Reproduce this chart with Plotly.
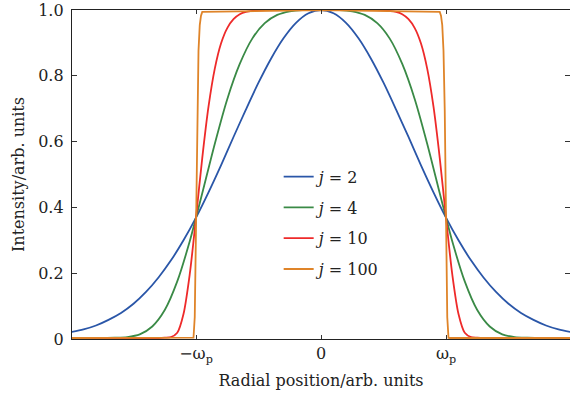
import plotly.graph_objects as go

# Radial positions (in units of w_p) and read intensities
x_j2 = [-2.0, -1.9, -1.8, -1.7, -1.6, -1.5, -1.4, -1.3, -1.2, -1.1, -1.0, -0.9, -0.8, -0.7, -0.6, -0.5,
        -0.4, -0.3, -0.2, -0.1, 0.0, 0.1, 0.2, 0.3, 0.4, 0.5, 0.6, 0.7, 0.8, 0.9, 1.0, 1.1, 1.2, 1.3,
        1.4, 1.5, 1.6, 1.7, 1.8, 1.9, 2.0]
y_j2 = [0.021, 0.029, 0.041, 0.058, 0.079, 0.107, 0.143, 0.187, 0.239, 0.300, 0.369, 0.446, 0.528,
        0.614, 0.698, 0.779, 0.852, 0.914, 0.961, 0.990, 1.0, 0.990, 0.961, 0.914, 0.852, 0.779, 0.698,
        0.614, 0.528, 0.446, 0.369, 0.300, 0.239, 0.187, 0.143, 0.107, 0.079, 0.058, 0.041, 0.029, 0.021]

x_j4 = [-2.0, -1.8, -1.65, -1.55, -1.45, -1.35, -1.25, -1.15, -1.05, -1.0, -0.95, -0.85, -0.75, -0.65,
        -0.55, -0.45, -0.35, -0.25, -0.15, 0.0, 0.15, 0.25, 0.35, 0.45, 0.55, 0.65, 0.75, 0.85, 0.95,
        1.0, 1.05, 1.15, 1.25, 1.35, 1.45, 1.55, 1.65, 1.8, 2.0]
y_j4 = [0.003, 0.003, 0.004, 0.006, 0.014, 0.038, 0.088, 0.175, 0.297, 0.369, 0.443, 0.593, 0.729,
        0.836, 0.913, 0.960, 0.985, 0.996, 1.0, 1.0, 1.0, 0.996, 0.985, 0.960, 0.913, 0.836, 0.729,
        0.593, 0.443, 0.369, 0.297, 0.175, 0.088, 0.038, 0.014, 0.006, 0.004, 0.003, 0.003]

x_j10 = [-2.0, -1.3, -1.25, -1.2, -1.15, -1.1, -1.05, -1.0, -0.95, -0.9, -0.85, -0.8, -0.75, -0.7,
         -0.65, -0.6, -0.5, 0.0, 0.5, 0.6, 0.65, 0.7, 0.75, 0.8, 0.85, 0.9, 0.95, 1.0, 1.05, 1.1,
         1.15, 1.2, 1.25, 1.3, 2.0]
y_j10 = [0.003, 0.003, 0.004, 0.006, 0.019, 0.076, 0.197, 0.369, 0.550, 0.706, 0.821, 0.898, 0.945,
         0.972, 0.987, 0.994, 0.999, 1.0, 0.999, 0.994, 0.987, 0.972, 0.945, 0.898, 0.821, 0.706,
         0.550, 0.369, 0.197, 0.076, 0.019, 0.006, 0.004, 0.003, 0.003]

x_j100 = [-2.0, -1.03, -1.02, -1.01, -1.0, -0.99, -0.98, -0.97, -0.96, -0.95, 0.0, 0.95, 0.96, 0.97,
          0.98, 0.99, 1.0, 1.01, 1.02, 1.03, 2.0]
y_j100 = [0.003, 0.003, 0.004, 0.067, 0.369, 0.693, 0.876, 0.954, 0.983, 0.994, 1.0, 0.994, 0.983,
          0.954, 0.876, 0.693, 0.369, 0.067, 0.004, 0.003, 0.003]

series_names = ["<i>j</i> = 2", "<i>j</i> = 4", "<i>j</i> = 10", "<i>j</i> = 100"]
colors = ["#2a56a8", "#3a8a46", "#ee2a2a", "#df8429"]
shapes = ["spline", "spline", "spline", "linear"]

x_tick_vals = [-1, 0, 1]
x_tick_text = ["\u2212\u03c9<sub>p</sub>", "0", "\u03c9<sub>p</sub>"]
y_tick_vals = [0, 0.2, 0.4, 0.6, 0.8, 1.0]
y_tick_text = ["0", "0.2", "0.4", "0.6", "0.8", "1.0"]

FONT = "DejaVu Serif"

fig = go.Figure()
for xs, ys, name, c, sh in zip([x_j2, x_j4, x_j10, x_j100], [y_j2, y_j4, y_j10, y_j100],
                               series_names, colors, shapes):
    fig.add_trace(go.Scatter(x=xs, y=ys, mode="lines", name=name, legendgroup=name,
                             line=dict(color=c, width=1.8, shape=sh, smoothing=0.8)))

fig.update_layout(
    width=570, height=396,
    margin=dict(l=72, r=0, t=10, b=57),
    paper_bgcolor="white", plot_bgcolor="white",
    font=dict(family=FONT, size=16, color="#222"),
    showlegend=True,
    legend=dict(x=0.415, y=0.545, xanchor="left", yanchor="top", bgcolor="rgba(0,0,0,0)",
                tracegroupgap=7, traceorder="grouped", font=dict(family=FONT, size=16)),
    xaxis=dict(range=[-1.992, 1.992], tickvals=x_tick_vals, ticktext=x_tick_text, automargin=False,
               showgrid=False, zeroline=False, showline=True, linecolor="#222", linewidth=1.3,
               mirror="ticks", ticks="inside", ticklen=4, tickcolor="#333", tickwidth=1.2,
               tickfont=dict(size=16),
               title=dict(text="Radial position/arb. units", font=dict(size=16), standoff=10)),
    yaxis=dict(range=[0, 1.0], tickvals=y_tick_vals, ticktext=y_tick_text, automargin=False,
               showgrid=False, zeroline=False, showline=True, linecolor="#222", linewidth=1.3,
               mirror="ticks", ticks="inside", ticklen=5, tickcolor="#333", tickwidth=1.2,
               tickfont=dict(size=16), ticklabelstandoff=4,
               title=dict(text="Intensity/arb. units", font=dict(size=16), standoff=9)),
)

fig.write_html("out.html", config={"displayModeBar": False},
               post_script="document.body.style.margin='0';")
